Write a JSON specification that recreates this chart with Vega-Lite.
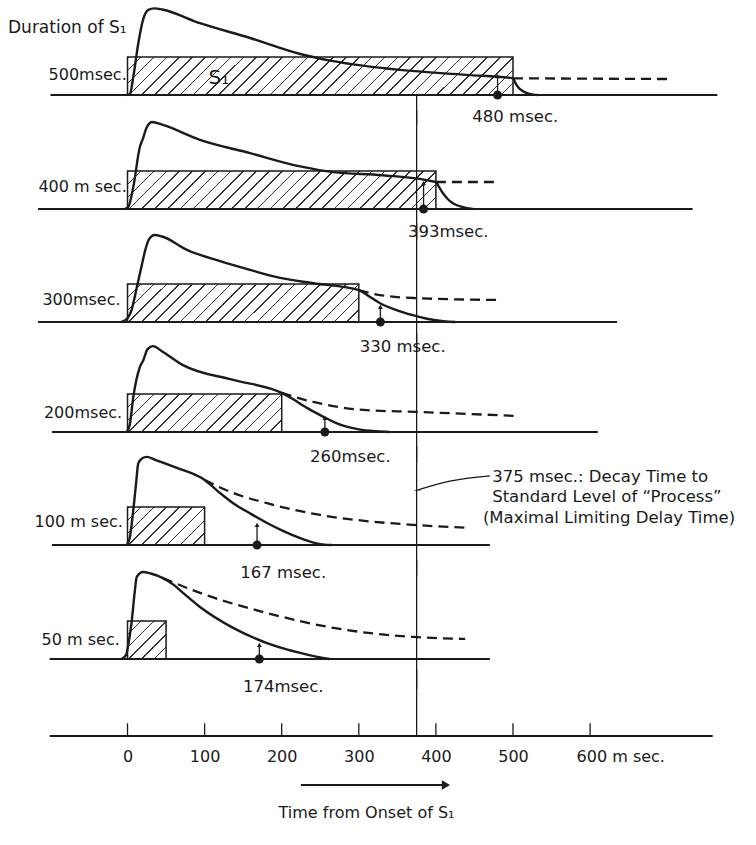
{
"$schema": "https://vega.github.io/schema/vega-lite/v6.json",
"background": "white",
"padding": 0,
"spacing": 0,
"bounds": "flush",
"config": {"view": {"stroke": null}, "font": "DejaVu Sans"},
"resolve": {"scale": {"y": "independent"}},
"datasets": {
"curves": [
{"p":500,"s":"solid","t":0,"v":0},{"p":500,"s":"solid","t":3,"v":0.02},{"p":500,"s":"solid","t":7.5,"v":0.48},{"p":500,"s":"solid","t":14,"v":1.36},{"p":500,"s":"solid","t":20,"v":1.97},{"p":500,"s":"solid","t":27,"v":2.24},{"p":500,"s":"solid","t":35,"v":2.28},{"p":500,"s":"solid","t":45,"v":2.25},{"p":500,"s":"solid","t":94,"v":1.89},{"p":500,"s":"solid","t":159,"v":1.5},{"p":500,"s":"solid","t":224,"v":1.08},{"p":500,"s":"solid","t":267,"v":0.89},{"p":500,"s":"solid","t":353,"v":0.66},{"p":500,"s":"solid","t":440,"v":0.53},{"p":500,"s":"solid","t":500,"v":0.44},{"p":500,"s":"solid","t":503,"v":0.32},{"p":500,"s":"solid","t":507,"v":0.2},{"p":500,"s":"solid","t":512,"v":0.11},{"p":500,"s":"solid","t":518,"v":0.05},{"p":500,"s":"solid","t":526,"v":0.01},{"p":500,"s":"solid","t":532,"v":0},
{"p":500,"s":"dashed","t":500,"v":0.44},{"p":500,"s":"dashed","t":600,"v":0.43},{"p":500,"s":"dashed","t":706,"v":0.42},
{"p":400,"s":"solid","t":-3,"v":0},{"p":400,"s":"solid","t":1,"v":0.05},{"p":400,"s":"solid","t":7.5,"v":0.58},{"p":400,"s":"solid","t":16,"v":1.63},{"p":400,"s":"solid","t":20,"v":1.85},{"p":400,"s":"solid","t":25,"v":2.15},{"p":400,"s":"solid","t":32,"v":2.29},{"p":400,"s":"solid","t":45,"v":2.22},{"p":400,"s":"solid","t":94,"v":1.82},{"p":400,"s":"solid","t":159,"v":1.47},{"p":400,"s":"solid","t":224,"v":1.12},{"p":400,"s":"solid","t":267,"v":0.97},{"p":400,"s":"solid","t":331,"v":0.89},{"p":400,"s":"solid","t":400,"v":0.71},{"p":400,"s":"solid","t":404,"v":0.58},{"p":400,"s":"solid","t":409,"v":0.42},{"p":400,"s":"solid","t":415,"v":0.27},{"p":400,"s":"solid","t":422,"v":0.15},{"p":400,"s":"solid","t":435,"v":0.05},{"p":400,"s":"solid","t":448,"v":0},
{"p":400,"s":"dashed","t":400,"v":0.71},{"p":400,"s":"dashed","t":483,"v":0.71},
{"p":300,"s":"solid","t":-8,"v":0},{"p":300,"s":"solid","t":0,"v":0.1},{"p":300,"s":"solid","t":5,"v":0.3},{"p":300,"s":"solid","t":7.5,"v":0.49},{"p":300,"s":"solid","t":13,"v":1.0},{"p":300,"s":"solid","t":18,"v":1.45},{"p":300,"s":"solid","t":23,"v":1.89},{"p":300,"s":"solid","t":28,"v":2.18},{"p":300,"s":"solid","t":35,"v":2.29},{"p":300,"s":"solid","t":45,"v":2.25},{"p":300,"s":"solid","t":77,"v":1.9},{"p":300,"s":"solid","t":120,"v":1.6},{"p":300,"s":"solid","t":159,"v":1.37},{"p":300,"s":"solid","t":198,"v":1.16},{"p":300,"s":"solid","t":241,"v":1.02},{"p":300,"s":"solid","t":300,"v":0.84},{"p":300,"s":"solid","t":313,"v":0.68},{"p":300,"s":"solid","t":327,"v":0.5},{"p":300,"s":"solid","t":348,"v":0.32},{"p":300,"s":"solid","t":370,"v":0.18},{"p":300,"s":"solid","t":390,"v":0.08},{"p":300,"s":"solid","t":410,"v":0.02},{"p":300,"s":"solid","t":425,"v":0},
{"p":300,"s":"dashed","t":300,"v":0.84},{"p":300,"s":"dashed","t":327,"v":0.71},{"p":300,"s":"dashed","t":373,"v":0.63},{"p":300,"s":"dashed","t":479,"v":0.58},
{"p":200,"s":"solid","t":-1,"v":0},{"p":200,"s":"solid","t":3,"v":0.2},{"p":200,"s":"solid","t":7.5,"v":0.92},{"p":200,"s":"solid","t":16,"v":1.71},{"p":200,"s":"solid","t":20.5,"v":1.89},{"p":200,"s":"solid","t":26,"v":2.18},{"p":200,"s":"solid","t":33,"v":2.26},{"p":200,"s":"solid","t":45,"v":2.12},{"p":200,"s":"solid","t":72,"v":1.76},{"p":200,"s":"solid","t":137,"v":1.37},{"p":200,"s":"solid","t":200,"v":1.03},{"p":200,"s":"solid","t":215,"v":0.86},{"p":200,"s":"solid","t":228,"v":0.69},{"p":200,"s":"solid","t":242,"v":0.53},{"p":200,"s":"solid","t":256,"v":0.38},{"p":200,"s":"solid","t":270,"v":0.24},{"p":200,"s":"solid","t":284,"v":0.14},{"p":200,"s":"solid","t":300,"v":0.07},{"p":200,"s":"solid","t":323,"v":0.02},{"p":200,"s":"solid","t":340,"v":0},
{"p":200,"s":"dashed","t":200,"v":1.03},{"p":200,"s":"dashed","t":241,"v":0.79},{"p":200,"s":"dashed","t":306,"v":0.58},{"p":200,"s":"dashed","t":373,"v":0.53},{"p":200,"s":"dashed","t":507,"v":0.42},
{"p":100,"s":"solid","t":-1,"v":0},{"p":100,"s":"solid","t":3,"v":0.2},{"p":100,"s":"solid","t":7.5,"v":0.92},{"p":100,"s":"solid","t":11,"v":1.6},{"p":100,"s":"solid","t":14,"v":2.15},{"p":100,"s":"solid","t":19,"v":2.28},{"p":100,"s":"solid","t":25,"v":2.32},{"p":100,"s":"solid","t":35,"v":2.25},{"p":100,"s":"solid","t":64,"v":2.03},{"p":100,"s":"solid","t":100,"v":1.71},{"p":100,"s":"solid","t":118,"v":1.4},{"p":100,"s":"solid","t":137,"v":1.1},{"p":100,"s":"solid","t":160,"v":0.82},{"p":100,"s":"solid","t":181,"v":0.58},{"p":100,"s":"solid","t":203,"v":0.36},{"p":100,"s":"solid","t":224,"v":0.18},{"p":100,"s":"solid","t":240,"v":0.07},{"p":100,"s":"solid","t":255,"v":0.01},{"p":100,"s":"solid","t":265,"v":0},
{"p":100,"s":"dashed","t":100,"v":1.71},{"p":100,"s":"dashed","t":137,"v":1.37},{"p":100,"s":"dashed","t":181,"v":1.1},{"p":100,"s":"dashed","t":250,"v":0.79},{"p":100,"s":"dashed","t":310,"v":0.63},{"p":100,"s":"dashed","t":371,"v":0.53},{"p":100,"s":"dashed","t":444,"v":0.45},
{"p":50,"s":"solid","t":-8,"v":0},{"p":50,"s":"solid","t":-2,"v":0.1},{"p":50,"s":"solid","t":2,"v":0.5},{"p":50,"s":"solid","t":5.4,"v":0.98},{"p":50,"s":"solid","t":9,"v":1.7},{"p":50,"s":"solid","t":12,"v":2.16},{"p":50,"s":"solid","t":20,"v":2.29},{"p":50,"s":"solid","t":30,"v":2.25},{"p":50,"s":"solid","t":46,"v":2.13},{"p":50,"s":"solid","t":60,"v":1.95},{"p":50,"s":"solid","t":72,"v":1.74},{"p":50,"s":"solid","t":94,"v":1.37},{"p":50,"s":"solid","t":137,"v":0.82},{"p":50,"s":"solid","t":181,"v":0.42},{"p":50,"s":"solid","t":224,"v":0.16},{"p":50,"s":"solid","t":250,"v":0.04},{"p":50,"s":"solid","t":262,"v":0},
{"p":50,"s":"dashed","t":46,"v":2.13},{"p":50,"s":"dashed","t":94,"v":1.74},{"p":50,"s":"dashed","t":181,"v":1.21},{"p":50,"s":"dashed","t":267,"v":0.82},{"p":50,"s":"dashed","t":371,"v":0.58},{"p":50,"s":"dashed","t":438,"v":0.53}
],
"boxes": [
{"p":500,"t":0,"t2":500,"v":0,"v2":1},{"p":400,"t":0,"t2":400,"v":0,"v2":1},{"p":300,"t":0,"t2":300,"v":0,"v2":1},{"p":200,"t":0,"t2":200,"v":0,"v2":1},{"p":100,"t":0,"t2":100,"v":0,"v2":1},{"p":50,"t":0,"t2":50,"v":0,"v2":1}
],
"bases": [
{"p":500,"t":-100,"t2":765,"v":0},{"p":400,"t":-116,"t2":733,"v":0},{"p":300,"t":-116,"t2":635,"v":0},{"p":200,"t":-98,"t2":610,"v":0},{"p":100,"t":-98,"t2":470,"v":0},{"p":50,"t":-101,"t2":470,"v":0},{"p":0,"t":-101,"t2":759,"v":0}
],
"vlines": [
{"p":500,"t":375,"v":0,"v2":-0.8},{"p":400,"t":375,"v":2.6,"v2":-0.8},{"p":300,"t":375,"v":2.6,"v2":-0.8},{"p":200,"t":375,"v":2.6,"v2":-0.8},{"p":100,"t":375,"v":2.6,"v2":-0.8},{"p":50,"t":375,"v":2.6,"v2":-0.8},{"p":0,"t":375,"v":1.3,"v2":0}
],
"dots": [
{"p":500,"t":480,"v":0,"v2":0.5},{"p":400,"t":384,"v":0,"v2":0.68},{"p":300,"t":328,"v":0,"v2":0.4},{"p":200,"t":256,"v":0,"v2":0.37},{"p":100,"t":168,"v":0,"v2":0.53},{"p":50,"t":171,"v":0,"v2":0.37}
],
"plabels": [
{"p":500,"t":-1,"v":0.53,"text":"500msec."},{"p":400,"t":-1,"v":0.58,"text":"400 m sec."},{"p":300,"t":-9,"v":0.58,"text":"300msec."},{"p":200,"t":-7,"v":0.5,"text":"200msec."},{"p":100,"t":-6,"v":0.6,"text":"100 m sec."},{"p":50,"t":-10,"v":0.5,"text":"50 m sec."}
],
"dlabels": [
{"p":500,"t":503,"v":-0.58,"text":"480 msec."},{"p":400,"t":416,"v":-0.6,"text":"393msec."},{"p":300,"t":357,"v":-0.66,"text":"330 msec."},{"p":200,"t":289,"v":-0.66,"text":"260msec."},{"p":100,"t":202,"v":-0.74,"text":"167 msec."},{"p":50,"t":202,"v":-0.74,"text":"174msec."}
],
"notes": [
{"p":500,"t":-155,"v":1.76,"text":"Duration of S\u2081"},
{"p":100,"t":473,"v":1.79,"text":"375 msec.: Decay Time to"},{"p":100,"t":473,"v":1.26,"text":"Standard Level of \u201cProcess\u201d"},{"p":100,"t":461,"v":0.71,"text":"(Maximal Limiting Delay Time)"}
],
"boxnote": [{"p":500,"t":105,"v":0.45,"text":"S\u2081"}],
"leader": [
{"p":100,"t":470,"v":1.82},{"p":100,"t":418,"v":1.68},{"p":100,"t":380,"v":1.47}
],
"leadhead": [{"p":100,"t":377,"v":1.45}],
"ticks": [
{"t":0,"v":0,"v2":0.25},{"t":100,"v":0,"v2":0.25},{"t":200,"v":0,"v2":0.25},{"t":300,"v":0,"v2":0.25},{"t":400,"v":0,"v2":0.25},{"t":500,"v":0,"v2":0.25},{"t":600,"v":0,"v2":0.25}
],
"arrow": [{"t":225,"t2":410,"v":-0.96}],
"arrowhead": [{"t":413,"v":-0.96}]
},
"vconcat": [
{
"height": 121, "width": 756,
"encoding": {"x": {"field":"t","type":"quantitative","scale":{"domain":[-165.4,815.2],"nice":false,"zero":false},"axis":null},
"y": {"field":"v","type":"quantitative","scale":{"domain":[-0.684,2.5],"nice":false,"zero":false},"axis":null}},
"layer": [
{"data":{"name":"boxes"},"transform":[{"filter":"datum.p==500"}],"mark":{"type":"rect","stroke":"#1a1a1a","strokeWidth":1.5,"fill":{"gradient":"linear","x1":0,"y1":0,"x2":1.088,"y2":0.1073,"stops":[
{"offset":0,"color":"#333"},{"offset":0.0038,"color":"#333"},{"offset":0.0038,"color":"#fff"},{"offset":0.0303,"color":"#fff"},
{"offset":0.0303,"color":"#333"},{"offset":0.0341,"color":"#333"},{"offset":0.0341,"color":"#fff"},{"offset":0.0606,"color":"#fff"},
{"offset":0.0606,"color":"#333"},{"offset":0.0644,"color":"#333"},{"offset":0.0644,"color":"#fff"},{"offset":0.0909,"color":"#fff"},
{"offset":0.0909,"color":"#333"},{"offset":0.0947,"color":"#333"},{"offset":0.0947,"color":"#fff"},{"offset":0.1212,"color":"#fff"},
{"offset":0.1212,"color":"#333"},{"offset":0.125,"color":"#333"},{"offset":0.125,"color":"#fff"},{"offset":0.1515,"color":"#fff"},
{"offset":0.1515,"color":"#333"},{"offset":0.1553,"color":"#333"},{"offset":0.1553,"color":"#fff"},{"offset":0.1818,"color":"#fff"},
{"offset":0.1818,"color":"#333"},{"offset":0.1856,"color":"#333"},{"offset":0.1856,"color":"#fff"},{"offset":0.2121,"color":"#fff"},
{"offset":0.2121,"color":"#333"},{"offset":0.2159,"color":"#333"},{"offset":0.2159,"color":"#fff"},{"offset":0.2424,"color":"#fff"},
{"offset":0.2424,"color":"#333"},{"offset":0.2462,"color":"#333"},{"offset":0.2462,"color":"#fff"},{"offset":0.2727,"color":"#fff"},
{"offset":0.2727,"color":"#333"},{"offset":0.2765,"color":"#333"},{"offset":0.2765,"color":"#fff"},{"offset":0.303,"color":"#fff"},
{"offset":0.303,"color":"#333"},{"offset":0.3068,"color":"#333"},{"offset":0.3068,"color":"#fff"},{"offset":0.3333,"color":"#fff"},
{"offset":0.3333,"color":"#333"},{"offset":0.3371,"color":"#333"},{"offset":0.3371,"color":"#fff"},{"offset":0.3636,"color":"#fff"},
{"offset":0.3636,"color":"#333"},{"offset":0.3674,"color":"#333"},{"offset":0.3674,"color":"#fff"},{"offset":0.3939,"color":"#fff"},
{"offset":0.3939,"color":"#333"},{"offset":0.3977,"color":"#333"},{"offset":0.3977,"color":"#fff"},{"offset":0.4242,"color":"#fff"},
{"offset":0.4242,"color":"#333"},{"offset":0.428,"color":"#333"},{"offset":0.428,"color":"#fff"},{"offset":0.4545,"color":"#fff"},
{"offset":0.4545,"color":"#333"},{"offset":0.4583,"color":"#333"},{"offset":0.4583,"color":"#fff"},{"offset":0.4848,"color":"#fff"},
{"offset":0.4848,"color":"#333"},{"offset":0.4886,"color":"#333"},{"offset":0.4886,"color":"#fff"},{"offset":0.5152,"color":"#fff"},
{"offset":0.5152,"color":"#333"},{"offset":0.519,"color":"#333"},{"offset":0.519,"color":"#fff"},{"offset":0.5455,"color":"#fff"},
{"offset":0.5455,"color":"#333"},{"offset":0.5493,"color":"#333"},{"offset":0.5493,"color":"#fff"},{"offset":0.5758,"color":"#fff"},
{"offset":0.5758,"color":"#333"},{"offset":0.5796,"color":"#333"},{"offset":0.5796,"color":"#fff"},{"offset":0.6061,"color":"#fff"},
{"offset":0.6061,"color":"#333"},{"offset":0.6099,"color":"#333"},{"offset":0.6099,"color":"#fff"},{"offset":0.6364,"color":"#fff"},
{"offset":0.6364,"color":"#333"},{"offset":0.6402,"color":"#333"},{"offset":0.6402,"color":"#fff"},{"offset":0.6667,"color":"#fff"},
{"offset":0.6667,"color":"#333"},{"offset":0.6705,"color":"#333"},{"offset":0.6705,"color":"#fff"},{"offset":0.697,"color":"#fff"},
{"offset":0.697,"color":"#333"},{"offset":0.7008,"color":"#333"},{"offset":0.7008,"color":"#fff"},{"offset":0.7273,"color":"#fff"},
{"offset":0.7273,"color":"#333"},{"offset":0.7311,"color":"#333"},{"offset":0.7311,"color":"#fff"},{"offset":0.7576,"color":"#fff"},
{"offset":0.7576,"color":"#333"},{"offset":0.7614,"color":"#333"},{"offset":0.7614,"color":"#fff"},{"offset":0.7879,"color":"#fff"},
{"offset":0.7879,"color":"#333"},{"offset":0.7917,"color":"#333"},{"offset":0.7917,"color":"#fff"},{"offset":0.8182,"color":"#fff"},
{"offset":0.8182,"color":"#333"},{"offset":0.822,"color":"#333"},{"offset":0.822,"color":"#fff"},{"offset":0.8485,"color":"#fff"},
{"offset":0.8485,"color":"#333"},{"offset":0.8523,"color":"#333"},{"offset":0.8523,"color":"#fff"},{"offset":0.8788,"color":"#fff"},
{"offset":0.8788,"color":"#333"},{"offset":0.8826,"color":"#333"},{"offset":0.8826,"color":"#fff"},{"offset":0.9091,"color":"#fff"},
{"offset":0.9091,"color":"#333"},{"offset":0.9129,"color":"#333"},{"offset":0.9129,"color":"#fff"},{"offset":0.9394,"color":"#fff"},
{"offset":0.9394,"color":"#333"},{"offset":0.9432,"color":"#333"},{"offset":0.9432,"color":"#fff"},{"offset":0.9697,"color":"#fff"},
{"offset":0.9697,"color":"#333"},{"offset":0.9735,"color":"#333"},{"offset":0.9735,"color":"#fff"},{"offset":1,"color":"#fff"}
]}},"encoding":{"x2":{"field":"t2"},"y2":{"field":"v2"}}},
{"data":{"name":"bases"},"transform":[{"filter":"datum.p==500"}],"mark":{"type":"rule","color":"#1a1a1a","strokeWidth":1.8},"encoding":{"x2":{"field":"t2"}}},
{"data":{"name":"vlines"},"transform":[{"filter":"datum.p==500"}],"mark":{"type":"rule","color":"#1a1a1a","strokeWidth":1.3},"encoding":{"y2":{"field":"v2"}}},
{"data":{"name":"curves"},"transform":[{"filter":"datum.p==500 && datum.s=='dashed'"}],"mark":{"type":"line","color":"#1a1a1a","strokeWidth":2.3,"strokeDash":[10,6],"interpolate":"monotone"}},
{"data":{"name":"curves"},"transform":[{"filter":"datum.p==500 && datum.s=='solid'"}],"mark":{"type":"line","color":"#1a1a1a","strokeWidth":2.4,"interpolate":"monotone"}},
{"data":{"name":"dots"},"transform":[{"filter":"datum.p==500"}],"mark":{"type":"rule","color":"#1a1a1a","strokeWidth":1.3},"encoding":{"y2":{"field":"v2"}}},
{"data":{"name":"dots"},"transform":[{"filter":"datum.p==500"}],"mark":{"type":"point","shape":"triangle-up","filled":true,"color":"#1a1a1a","opacity":1,"size":24},"encoding":{"y":{"field":"v2","type":"quantitative"}}},
{"data":{"name":"dots"},"transform":[{"filter":"datum.p==500"}],"mark":{"type":"circle","color":"#1a1a1a","opacity":1,"size":80}},
{"data":{"name":"plabels"},"transform":[{"filter":"datum.p==500"}],"mark":{"type":"text","align":"right","baseline":"middle","font":"DejaVu Sans","fontSize":16,"color":"#1a1a1a"},"encoding":{"text":{"field":"text"}}},
{"data":{"name":"dlabels"},"transform":[{"filter":"datum.p==500"}],"mark":{"type":"text","align":"center","baseline":"middle","font":"DejaVu Sans","fontSize":16.5,"color":"#1a1a1a"},"encoding":{"text":{"field":"text"}}},
{"data":{"name":"notes"},"transform":[{"filter":"datum.p==500"}],"mark":{"type":"text","align":"left","baseline":"middle","font":"DejaVu Sans","fontSize":17,"color":"#1a1a1a"},"encoding":{"text":{"field":"text"}}},
{"data":{"name":"boxnote"},"mark":{"type":"text","align":"left","baseline":"middle","font":"DejaVu Sans","fontSize":20,"color":"#1a1a1a"},"encoding":{"text":{"field":"text"}}}
]
},
{
"height": 113, "width": 756,
"encoding": {"x": {"field":"t","type":"quantitative","scale":{"domain":[-165.4,815.2],"nice":false,"zero":false},"axis":null},
"y": {"field":"v","type":"quantitative","scale":{"domain":[-0.658,2.316],"nice":false,"zero":false},"axis":null}},
"layer": [
{"data":{"name":"boxes"},"transform":[{"filter":"datum.p==400"}],"mark":{"type":"rect","stroke":"#1a1a1a","strokeWidth":1.5,"fill":{"gradient":"linear","x1":0,"y1":0,"x2":1.1064,"y2":0.1363,"stops":[
{"offset":0,"color":"#333"},{"offset":0.0046,"color":"#333"},{"offset":0.0046,"color":"#fff"},{"offset":0.037,"color":"#fff"},
{"offset":0.037,"color":"#333"},{"offset":0.0416,"color":"#333"},{"offset":0.0416,"color":"#fff"},{"offset":0.0741,"color":"#fff"},
{"offset":0.0741,"color":"#333"},{"offset":0.0787,"color":"#333"},{"offset":0.0787,"color":"#fff"},{"offset":0.1111,"color":"#fff"},
{"offset":0.1111,"color":"#333"},{"offset":0.1157,"color":"#333"},{"offset":0.1157,"color":"#fff"},{"offset":0.1481,"color":"#fff"},
{"offset":0.1481,"color":"#333"},{"offset":0.1527,"color":"#333"},{"offset":0.1527,"color":"#fff"},{"offset":0.1852,"color":"#fff"},
{"offset":0.1852,"color":"#333"},{"offset":0.1898,"color":"#333"},{"offset":0.1898,"color":"#fff"},{"offset":0.2222,"color":"#fff"},
{"offset":0.2222,"color":"#333"},{"offset":0.2268,"color":"#333"},{"offset":0.2268,"color":"#fff"},{"offset":0.2593,"color":"#fff"},
{"offset":0.2593,"color":"#333"},{"offset":0.2639,"color":"#333"},{"offset":0.2639,"color":"#fff"},{"offset":0.2963,"color":"#fff"},
{"offset":0.2963,"color":"#333"},{"offset":0.3009,"color":"#333"},{"offset":0.3009,"color":"#fff"},{"offset":0.3333,"color":"#fff"},
{"offset":0.3333,"color":"#333"},{"offset":0.3379,"color":"#333"},{"offset":0.3379,"color":"#fff"},{"offset":0.3704,"color":"#fff"},
{"offset":0.3704,"color":"#333"},{"offset":0.375,"color":"#333"},{"offset":0.375,"color":"#fff"},{"offset":0.4074,"color":"#fff"},
{"offset":0.4074,"color":"#333"},{"offset":0.412,"color":"#333"},{"offset":0.412,"color":"#fff"},{"offset":0.4444,"color":"#fff"},
{"offset":0.4444,"color":"#333"},{"offset":0.449,"color":"#333"},{"offset":0.449,"color":"#fff"},{"offset":0.4815,"color":"#fff"},
{"offset":0.4815,"color":"#333"},{"offset":0.4861,"color":"#333"},{"offset":0.4861,"color":"#fff"},{"offset":0.5185,"color":"#fff"},
{"offset":0.5185,"color":"#333"},{"offset":0.5231,"color":"#333"},{"offset":0.5231,"color":"#fff"},{"offset":0.5556,"color":"#fff"},
{"offset":0.5556,"color":"#333"},{"offset":0.5602,"color":"#333"},{"offset":0.5602,"color":"#fff"},{"offset":0.5926,"color":"#fff"},
{"offset":0.5926,"color":"#333"},{"offset":0.5972,"color":"#333"},{"offset":0.5972,"color":"#fff"},{"offset":0.6296,"color":"#fff"},
{"offset":0.6296,"color":"#333"},{"offset":0.6342,"color":"#333"},{"offset":0.6342,"color":"#fff"},{"offset":0.6667,"color":"#fff"},
{"offset":0.6667,"color":"#333"},{"offset":0.6713,"color":"#333"},{"offset":0.6713,"color":"#fff"},{"offset":0.7037,"color":"#fff"},
{"offset":0.7037,"color":"#333"},{"offset":0.7083,"color":"#333"},{"offset":0.7083,"color":"#fff"},{"offset":0.7407,"color":"#fff"},
{"offset":0.7407,"color":"#333"},{"offset":0.7453,"color":"#333"},{"offset":0.7453,"color":"#fff"},{"offset":0.7778,"color":"#fff"},
{"offset":0.7778,"color":"#333"},{"offset":0.7824,"color":"#333"},{"offset":0.7824,"color":"#fff"},{"offset":0.8148,"color":"#fff"},
{"offset":0.8148,"color":"#333"},{"offset":0.8194,"color":"#333"},{"offset":0.8194,"color":"#fff"},{"offset":0.8519,"color":"#fff"},
{"offset":0.8519,"color":"#333"},{"offset":0.8565,"color":"#333"},{"offset":0.8565,"color":"#fff"},{"offset":0.8889,"color":"#fff"},
{"offset":0.8889,"color":"#333"},{"offset":0.8935,"color":"#333"},{"offset":0.8935,"color":"#fff"},{"offset":0.9259,"color":"#fff"},
{"offset":0.9259,"color":"#333"},{"offset":0.9305,"color":"#333"},{"offset":0.9305,"color":"#fff"},{"offset":0.963,"color":"#fff"},
{"offset":0.963,"color":"#333"},{"offset":0.9676,"color":"#333"},{"offset":0.9676,"color":"#fff"},{"offset":1,"color":"#fff"}
]}},"encoding":{"x2":{"field":"t2"},"y2":{"field":"v2"}}},
{"data":{"name":"bases"},"transform":[{"filter":"datum.p==400"}],"mark":{"type":"rule","color":"#1a1a1a","strokeWidth":1.8},"encoding":{"x2":{"field":"t2"}}},
{"data":{"name":"vlines"},"transform":[{"filter":"datum.p==400"}],"mark":{"type":"rule","color":"#1a1a1a","strokeWidth":1.3},"encoding":{"y2":{"field":"v2"}}},
{"data":{"name":"curves"},"transform":[{"filter":"datum.p==400 && datum.s=='dashed'"}],"mark":{"type":"line","color":"#1a1a1a","strokeWidth":2.3,"strokeDash":[10,6],"interpolate":"monotone"}},
{"data":{"name":"curves"},"transform":[{"filter":"datum.p==400 && datum.s=='solid'"}],"mark":{"type":"line","color":"#1a1a1a","strokeWidth":2.4,"interpolate":"monotone"}},
{"data":{"name":"dots"},"transform":[{"filter":"datum.p==400"}],"mark":{"type":"rule","color":"#1a1a1a","strokeWidth":1.3},"encoding":{"y2":{"field":"v2"}}},
{"data":{"name":"dots"},"transform":[{"filter":"datum.p==400"}],"mark":{"type":"point","shape":"triangle-up","filled":true,"color":"#1a1a1a","opacity":1,"size":24},"encoding":{"y":{"field":"v2","type":"quantitative"}}},
{"data":{"name":"dots"},"transform":[{"filter":"datum.p==400"}],"mark":{"type":"circle","color":"#1a1a1a","opacity":1,"size":80}},
{"data":{"name":"plabels"},"transform":[{"filter":"datum.p==400"}],"mark":{"type":"text","align":"right","baseline":"middle","font":"DejaVu Sans","fontSize":16,"color":"#1a1a1a"},"encoding":{"text":{"field":"text"}}},
{"data":{"name":"dlabels"},"transform":[{"filter":"datum.p==400"}],"mark":{"type":"text","align":"center","baseline":"middle","font":"DejaVu Sans","fontSize":16.5,"color":"#1a1a1a"},"encoding":{"text":{"field":"text"}}}
]
},
{
"height": 110, "width": 756,
"encoding": {"x": {"field":"t","type":"quantitative","scale":{"domain":[-165.4,815.2],"nice":false,"zero":false},"axis":null},
"y": {"field":"v","type":"quantitative","scale":{"domain":[-0.579,2.316],"nice":false,"zero":false},"axis":null}},
"layer": [
{"data":{"name":"boxes"},"transform":[{"filter":"datum.p==300"}],"mark":{"type":"rect","stroke":"#1a1a1a","strokeWidth":1.5,"fill":{"gradient":"linear","x1":0,"y1":0,"x2":1.1337,"y2":0.1863,"stops":[
{"offset":0,"color":"#333"},{"offset":0.006,"color":"#333"},{"offset":0.006,"color":"#fff"},{"offset":0.0476,"color":"#fff"},
{"offset":0.0476,"color":"#333"},{"offset":0.0536,"color":"#333"},{"offset":0.0536,"color":"#fff"},{"offset":0.0952,"color":"#fff"},
{"offset":0.0952,"color":"#333"},{"offset":0.1012,"color":"#333"},{"offset":0.1012,"color":"#fff"},{"offset":0.1429,"color":"#fff"},
{"offset":0.1429,"color":"#333"},{"offset":0.1489,"color":"#333"},{"offset":0.1489,"color":"#fff"},{"offset":0.1905,"color":"#fff"},
{"offset":0.1905,"color":"#333"},{"offset":0.1965,"color":"#333"},{"offset":0.1965,"color":"#fff"},{"offset":0.2381,"color":"#fff"},
{"offset":0.2381,"color":"#333"},{"offset":0.2441,"color":"#333"},{"offset":0.2441,"color":"#fff"},{"offset":0.2857,"color":"#fff"},
{"offset":0.2857,"color":"#333"},{"offset":0.2917,"color":"#333"},{"offset":0.2917,"color":"#fff"},{"offset":0.3333,"color":"#fff"},
{"offset":0.3333,"color":"#333"},{"offset":0.3393,"color":"#333"},{"offset":0.3393,"color":"#fff"},{"offset":0.381,"color":"#fff"},
{"offset":0.381,"color":"#333"},{"offset":0.387,"color":"#333"},{"offset":0.387,"color":"#fff"},{"offset":0.4286,"color":"#fff"},
{"offset":0.4286,"color":"#333"},{"offset":0.4346,"color":"#333"},{"offset":0.4346,"color":"#fff"},{"offset":0.4762,"color":"#fff"},
{"offset":0.4762,"color":"#333"},{"offset":0.4822,"color":"#333"},{"offset":0.4822,"color":"#fff"},{"offset":0.5238,"color":"#fff"},
{"offset":0.5238,"color":"#333"},{"offset":0.5298,"color":"#333"},{"offset":0.5298,"color":"#fff"},{"offset":0.5714,"color":"#fff"},
{"offset":0.5714,"color":"#333"},{"offset":0.5774,"color":"#333"},{"offset":0.5774,"color":"#fff"},{"offset":0.619,"color":"#fff"},
{"offset":0.619,"color":"#333"},{"offset":0.625,"color":"#333"},{"offset":0.625,"color":"#fff"},{"offset":0.6667,"color":"#fff"},
{"offset":0.6667,"color":"#333"},{"offset":0.6727,"color":"#333"},{"offset":0.6727,"color":"#fff"},{"offset":0.7143,"color":"#fff"},
{"offset":0.7143,"color":"#333"},{"offset":0.7203,"color":"#333"},{"offset":0.7203,"color":"#fff"},{"offset":0.7619,"color":"#fff"},
{"offset":0.7619,"color":"#333"},{"offset":0.7679,"color":"#333"},{"offset":0.7679,"color":"#fff"},{"offset":0.8095,"color":"#fff"},
{"offset":0.8095,"color":"#333"},{"offset":0.8155,"color":"#333"},{"offset":0.8155,"color":"#fff"},{"offset":0.8571,"color":"#fff"},
{"offset":0.8571,"color":"#333"},{"offset":0.8631,"color":"#333"},{"offset":0.8631,"color":"#fff"},{"offset":0.9048,"color":"#fff"},
{"offset":0.9048,"color":"#333"},{"offset":0.9108,"color":"#333"},{"offset":0.9108,"color":"#fff"},{"offset":0.9524,"color":"#fff"},
{"offset":0.9524,"color":"#333"},{"offset":0.9584,"color":"#333"},{"offset":0.9584,"color":"#fff"},{"offset":1,"color":"#fff"}
]}},"encoding":{"x2":{"field":"t2"},"y2":{"field":"v2"}}},
{"data":{"name":"bases"},"transform":[{"filter":"datum.p==300"}],"mark":{"type":"rule","color":"#1a1a1a","strokeWidth":1.8},"encoding":{"x2":{"field":"t2"}}},
{"data":{"name":"vlines"},"transform":[{"filter":"datum.p==300"}],"mark":{"type":"rule","color":"#1a1a1a","strokeWidth":1.3},"encoding":{"y2":{"field":"v2"}}},
{"data":{"name":"curves"},"transform":[{"filter":"datum.p==300 && datum.s=='dashed'"}],"mark":{"type":"line","color":"#1a1a1a","strokeWidth":2.3,"strokeDash":[10,6],"interpolate":"monotone"}},
{"data":{"name":"curves"},"transform":[{"filter":"datum.p==300 && datum.s=='solid'"}],"mark":{"type":"line","color":"#1a1a1a","strokeWidth":2.4,"interpolate":"monotone"}},
{"data":{"name":"dots"},"transform":[{"filter":"datum.p==300"}],"mark":{"type":"rule","color":"#1a1a1a","strokeWidth":1.3},"encoding":{"y2":{"field":"v2"}}},
{"data":{"name":"dots"},"transform":[{"filter":"datum.p==300"}],"mark":{"type":"point","shape":"triangle-up","filled":true,"color":"#1a1a1a","opacity":1,"size":24},"encoding":{"y":{"field":"v2","type":"quantitative"}}},
{"data":{"name":"dots"},"transform":[{"filter":"datum.p==300"}],"mark":{"type":"circle","color":"#1a1a1a","opacity":1,"size":80}},
{"data":{"name":"plabels"},"transform":[{"filter":"datum.p==300"}],"mark":{"type":"text","align":"right","baseline":"middle","font":"DejaVu Sans","fontSize":16,"color":"#1a1a1a"},"encoding":{"text":{"field":"text"}}},
{"data":{"name":"dlabels"},"transform":[{"filter":"datum.p==300"}],"mark":{"type":"text","align":"center","baseline":"middle","font":"DejaVu Sans","fontSize":16.5,"color":"#1a1a1a"},"encoding":{"text":{"field":"text"}}}
]
},
{
"height": 113, "width": 756,
"encoding": {"x": {"field":"t","type":"quantitative","scale":{"domain":[-165.4,815.2],"nice":false,"zero":false},"axis":null},
"y": {"field":"v","type":"quantitative","scale":{"domain":[-0.658,2.316],"nice":false,"zero":false},"axis":null}},
"layer": [
{"data":{"name":"boxes"},"transform":[{"filter":"datum.p==200"}],"mark":{"type":"rect","stroke":"#1a1a1a","strokeWidth":1.5,"fill":{"gradient":"linear","x1":0,"y1":0,"x2":1.175,"y2":0.2896,"stops":[
{"offset":0,"color":"#333"},{"offset":0.0083,"color":"#333"},{"offset":0.0083,"color":"#fff"},{"offset":0.0667,"color":"#fff"},
{"offset":0.0667,"color":"#333"},{"offset":0.075,"color":"#333"},{"offset":0.075,"color":"#fff"},{"offset":0.1333,"color":"#fff"},
{"offset":0.1333,"color":"#333"},{"offset":0.1416,"color":"#333"},{"offset":0.1416,"color":"#fff"},{"offset":0.2,"color":"#fff"},
{"offset":0.2,"color":"#333"},{"offset":0.2083,"color":"#333"},{"offset":0.2083,"color":"#fff"},{"offset":0.2667,"color":"#fff"},
{"offset":0.2667,"color":"#333"},{"offset":0.275,"color":"#333"},{"offset":0.275,"color":"#fff"},{"offset":0.3333,"color":"#fff"},
{"offset":0.3333,"color":"#333"},{"offset":0.3416,"color":"#333"},{"offset":0.3416,"color":"#fff"},{"offset":0.4,"color":"#fff"},
{"offset":0.4,"color":"#333"},{"offset":0.4083,"color":"#333"},{"offset":0.4083,"color":"#fff"},{"offset":0.4667,"color":"#fff"},
{"offset":0.4667,"color":"#333"},{"offset":0.475,"color":"#333"},{"offset":0.475,"color":"#fff"},{"offset":0.5333,"color":"#fff"},
{"offset":0.5333,"color":"#333"},{"offset":0.5416,"color":"#333"},{"offset":0.5416,"color":"#fff"},{"offset":0.6,"color":"#fff"},
{"offset":0.6,"color":"#333"},{"offset":0.6083,"color":"#333"},{"offset":0.6083,"color":"#fff"},{"offset":0.6667,"color":"#fff"},
{"offset":0.6667,"color":"#333"},{"offset":0.675,"color":"#333"},{"offset":0.675,"color":"#fff"},{"offset":0.7333,"color":"#fff"},
{"offset":0.7333,"color":"#333"},{"offset":0.7416,"color":"#333"},{"offset":0.7416,"color":"#fff"},{"offset":0.8,"color":"#fff"},
{"offset":0.8,"color":"#333"},{"offset":0.8083,"color":"#333"},{"offset":0.8083,"color":"#fff"},{"offset":0.8667,"color":"#fff"},
{"offset":0.8667,"color":"#333"},{"offset":0.875,"color":"#333"},{"offset":0.875,"color":"#fff"},{"offset":0.9333,"color":"#fff"},
{"offset":0.9333,"color":"#333"},{"offset":0.9416,"color":"#333"},{"offset":0.9416,"color":"#fff"},{"offset":1,"color":"#fff"}
]}},"encoding":{"x2":{"field":"t2"},"y2":{"field":"v2"}}},
{"data":{"name":"bases"},"transform":[{"filter":"datum.p==200"}],"mark":{"type":"rule","color":"#1a1a1a","strokeWidth":1.8},"encoding":{"x2":{"field":"t2"}}},
{"data":{"name":"vlines"},"transform":[{"filter":"datum.p==200"}],"mark":{"type":"rule","color":"#1a1a1a","strokeWidth":1.3},"encoding":{"y2":{"field":"v2"}}},
{"data":{"name":"curves"},"transform":[{"filter":"datum.p==200 && datum.s=='dashed'"}],"mark":{"type":"line","color":"#1a1a1a","strokeWidth":2.3,"strokeDash":[10,6],"interpolate":"monotone"}},
{"data":{"name":"curves"},"transform":[{"filter":"datum.p==200 && datum.s=='solid'"}],"mark":{"type":"line","color":"#1a1a1a","strokeWidth":2.4,"interpolate":"monotone"}},
{"data":{"name":"dots"},"transform":[{"filter":"datum.p==200"}],"mark":{"type":"rule","color":"#1a1a1a","strokeWidth":1.3},"encoding":{"y2":{"field":"v2"}}},
{"data":{"name":"dots"},"transform":[{"filter":"datum.p==200"}],"mark":{"type":"point","shape":"triangle-up","filled":true,"color":"#1a1a1a","opacity":1,"size":24},"encoding":{"y":{"field":"v2","type":"quantitative"}}},
{"data":{"name":"dots"},"transform":[{"filter":"datum.p==200"}],"mark":{"type":"circle","color":"#1a1a1a","opacity":1,"size":80}},
{"data":{"name":"plabels"},"transform":[{"filter":"datum.p==200"}],"mark":{"type":"text","align":"right","baseline":"middle","font":"DejaVu Sans","fontSize":16,"color":"#1a1a1a"},"encoding":{"text":{"field":"text"}}},
{"data":{"name":"dlabels"},"transform":[{"filter":"datum.p==200"}],"mark":{"type":"text","align":"center","baseline":"middle","font":"DejaVu Sans","fontSize":16.5,"color":"#1a1a1a"},"encoding":{"text":{"field":"text"}}}
]
},
{
"height": 114, "width": 756,
"encoding": {"x": {"field":"t","type":"quantitative","scale":{"domain":[-165.4,815.2],"nice":false,"zero":false},"axis":null},
"y": {"field":"v","type":"quantitative","scale":{"domain":[-0.684,2.316],"nice":false,"zero":false},"axis":null}},
"layer": [
{"data":{"name":"boxes"},"transform":[{"filter":"datum.p==100"}],"mark":{"type":"rect","stroke":"#1a1a1a","strokeWidth":1.5,"fill":{"gradient":"linear","x1":0,"y1":0,"x2":1.2011,"y2":0.592,"stops":[
{"offset":0,"color":"#333"},{"offset":0.0139,"color":"#333"},{"offset":0.0139,"color":"#fff"},{"offset":0.1111,"color":"#fff"},
{"offset":0.1111,"color":"#333"},{"offset":0.125,"color":"#333"},{"offset":0.125,"color":"#fff"},{"offset":0.2222,"color":"#fff"},
{"offset":0.2222,"color":"#333"},{"offset":0.2361,"color":"#333"},{"offset":0.2361,"color":"#fff"},{"offset":0.3333,"color":"#fff"},
{"offset":0.3333,"color":"#333"},{"offset":0.3472,"color":"#333"},{"offset":0.3472,"color":"#fff"},{"offset":0.4444,"color":"#fff"},
{"offset":0.4444,"color":"#333"},{"offset":0.4583,"color":"#333"},{"offset":0.4583,"color":"#fff"},{"offset":0.5556,"color":"#fff"},
{"offset":0.5556,"color":"#333"},{"offset":0.5695,"color":"#333"},{"offset":0.5695,"color":"#fff"},{"offset":0.6667,"color":"#fff"},
{"offset":0.6667,"color":"#333"},{"offset":0.6806,"color":"#333"},{"offset":0.6806,"color":"#fff"},{"offset":0.7778,"color":"#fff"},
{"offset":0.7778,"color":"#333"},{"offset":0.7917,"color":"#333"},{"offset":0.7917,"color":"#fff"},{"offset":0.8889,"color":"#fff"},
{"offset":0.8889,"color":"#333"},{"offset":0.9028,"color":"#333"},{"offset":0.9028,"color":"#fff"},{"offset":1,"color":"#fff"}
]}},"encoding":{"x2":{"field":"t2"},"y2":{"field":"v2"}}},
{"data":{"name":"bases"},"transform":[{"filter":"datum.p==100"}],"mark":{"type":"rule","color":"#1a1a1a","strokeWidth":1.8},"encoding":{"x2":{"field":"t2"}}},
{"data":{"name":"vlines"},"transform":[{"filter":"datum.p==100"}],"mark":{"type":"rule","color":"#1a1a1a","strokeWidth":1.3},"encoding":{"y2":{"field":"v2"}}},
{"data":{"name":"curves"},"transform":[{"filter":"datum.p==100 && datum.s=='dashed'"}],"mark":{"type":"line","color":"#1a1a1a","strokeWidth":2.3,"strokeDash":[10,6],"interpolate":"monotone"}},
{"data":{"name":"curves"},"transform":[{"filter":"datum.p==100 && datum.s=='solid'"}],"mark":{"type":"line","color":"#1a1a1a","strokeWidth":2.4,"interpolate":"monotone"}},
{"data":{"name":"dots"},"transform":[{"filter":"datum.p==100"}],"mark":{"type":"rule","color":"#1a1a1a","strokeWidth":1.3},"encoding":{"y2":{"field":"v2"}}},
{"data":{"name":"dots"},"transform":[{"filter":"datum.p==100"}],"mark":{"type":"point","shape":"triangle-up","filled":true,"color":"#1a1a1a","opacity":1,"size":24},"encoding":{"y":{"field":"v2","type":"quantitative"}}},
{"data":{"name":"dots"},"transform":[{"filter":"datum.p==100"}],"mark":{"type":"circle","color":"#1a1a1a","opacity":1,"size":80}},
{"data":{"name":"plabels"},"transform":[{"filter":"datum.p==100"}],"mark":{"type":"text","align":"right","baseline":"middle","font":"DejaVu Sans","fontSize":16,"color":"#1a1a1a"},"encoding":{"text":{"field":"text"}}},
{"data":{"name":"dlabels"},"transform":[{"filter":"datum.p==100"}],"mark":{"type":"text","align":"center","baseline":"middle","font":"DejaVu Sans","fontSize":16.5,"color":"#1a1a1a"},"encoding":{"text":{"field":"text"}}},
{"data":{"name":"notes"},"transform":[{"filter":"datum.p==100"}],"mark":{"type":"text","align":"left","baseline":"middle","font":"DejaVu Sans","fontSize":16.5,"color":"#1a1a1a"},"encoding":{"text":{"field":"text"}}},
{"data":{"name":"leader"},"mark":{"type":"line","color":"#1a1a1a","strokeWidth":1.4,"interpolate":"monotone"}},
{"data":{"name":"leadhead"},"mark":{"type":"point","shape":"wedge","angle":260,"filled":true,"color":"#1a1a1a","opacity":1,"size":70}}
]
},
{
"height": 114, "width": 756,
"encoding": {"x": {"field":"t","type":"quantitative","scale":{"domain":[-165.4,815.2],"nice":false,"zero":false},"axis":null},
"y": {"field":"v","type":"quantitative","scale":{"domain":[-0.684,2.316],"nice":false,"zero":false},"axis":null}},
"layer": [
{"data":{"name":"boxes"},"transform":[{"filter":"datum.p==50"}],"mark":{"type":"rect","stroke":"#1a1a1a","strokeWidth":1.5,"fill":{"gradient":"linear","x1":0,"y1":0,"x2":1.0072,"y2":0.9928,"stops":[
{"offset":0,"color":"#333"},{"offset":0.0208,"color":"#333"},{"offset":0.0208,"color":"#fff"},{"offset":0.1667,"color":"#fff"},
{"offset":0.1667,"color":"#333"},{"offset":0.1875,"color":"#333"},{"offset":0.1875,"color":"#fff"},{"offset":0.3333,"color":"#fff"},
{"offset":0.3333,"color":"#333"},{"offset":0.3541,"color":"#333"},{"offset":0.3541,"color":"#fff"},{"offset":0.5,"color":"#fff"},
{"offset":0.5,"color":"#333"},{"offset":0.5208,"color":"#333"},{"offset":0.5208,"color":"#fff"},{"offset":0.6667,"color":"#fff"},
{"offset":0.6667,"color":"#333"},{"offset":0.6875,"color":"#333"},{"offset":0.6875,"color":"#fff"},{"offset":0.8333,"color":"#fff"},
{"offset":0.8333,"color":"#333"},{"offset":0.8541,"color":"#333"},{"offset":0.8541,"color":"#fff"},{"offset":1,"color":"#fff"}
]}},"encoding":{"x2":{"field":"t2"},"y2":{"field":"v2"}}},
{"data":{"name":"bases"},"transform":[{"filter":"datum.p==50"}],"mark":{"type":"rule","color":"#1a1a1a","strokeWidth":1.8},"encoding":{"x2":{"field":"t2"}}},
{"data":{"name":"vlines"},"transform":[{"filter":"datum.p==50"}],"mark":{"type":"rule","color":"#1a1a1a","strokeWidth":1.3},"encoding":{"y2":{"field":"v2"}}},
{"data":{"name":"curves"},"transform":[{"filter":"datum.p==50 && datum.s=='dashed'"}],"mark":{"type":"line","color":"#1a1a1a","strokeWidth":2.3,"strokeDash":[10,6],"interpolate":"monotone"}},
{"data":{"name":"curves"},"transform":[{"filter":"datum.p==50 && datum.s=='solid'"}],"mark":{"type":"line","color":"#1a1a1a","strokeWidth":2.4,"interpolate":"monotone"}},
{"data":{"name":"dots"},"transform":[{"filter":"datum.p==50"}],"mark":{"type":"rule","color":"#1a1a1a","strokeWidth":1.3},"encoding":{"y2":{"field":"v2"}}},
{"data":{"name":"dots"},"transform":[{"filter":"datum.p==50"}],"mark":{"type":"point","shape":"triangle-up","filled":true,"color":"#1a1a1a","opacity":1,"size":24},"encoding":{"y":{"field":"v2","type":"quantitative"}}},
{"data":{"name":"dots"},"transform":[{"filter":"datum.p==50"}],"mark":{"type":"circle","color":"#1a1a1a","opacity":1,"size":80}},
{"data":{"name":"plabels"},"transform":[{"filter":"datum.p==50"}],"mark":{"type":"text","align":"right","baseline":"middle","font":"DejaVu Sans","fontSize":16,"color":"#1a1a1a"},"encoding":{"text":{"field":"text"}}},
{"data":{"name":"dlabels"},"transform":[{"filter":"datum.p==50"}],"mark":{"type":"text","align":"center","baseline":"middle","font":"DejaVu Sans","fontSize":16.5,"color":"#1a1a1a"},"encoding":{"text":{"field":"text"}}}
]
},
{
"height": 51, "width": 756,
"encoding": {"x": {"field":"t","type":"quantitative","scale":{"domain":[-165.4,815.2],"nice":false,"zero":false},
"axis": {"values":[0,100,200,300,400,500,600],"labelExpr":"datum.value == 600 ? '600 m sec.' : datum.label","labelAlign":{"condition":{"test":"datum.value == 600","value":"left"},"value":"center"},"labelOffset":{"condition":{"test":"datum.value == 600","value":-14},"value":0},"domain":false,"ticks":false,"tickSize":0,"grid":false,"labelPadding":12,"labelFont":"DejaVu Sans","labelFontSize":16,"labelColor":"#1a1a1a","labelFlush":false,"labelOverlap":false,"title":"Time from Onset of S\u2081","titleFont":"DejaVu Sans","titleFontSize":16,"titleFontWeight":"normal","titleColor":"#1a1a1a","titlePadding":40,"titleX":366}},
"y": {"field":"v","type":"quantitative","scale":{"domain":[0,1],"nice":false,"zero":false},"axis":null}},
"layer": [
{"data":{"name":"bases"},"transform":[{"filter":"datum.p==0"}],"mark":{"type":"rule","color":"#1a1a1a","strokeWidth":1.8},"encoding":{"x2":{"field":"t2"}}},
{"data":{"name":"ticks"},"mark":{"type":"rule","color":"#1a1a1a","strokeWidth":1.3},"encoding":{"y2":{"field":"v2"}}},
{"data":{"name":"vlines"},"transform":[{"filter":"datum.p==0"}],"mark":{"type":"rule","color":"#1a1a1a","strokeWidth":1.3},"encoding":{"y2":{"field":"v2"}}},
{"data":{"name":"arrow"},"mark":{"type":"rule","color":"#1a1a1a","strokeWidth":2},"encoding":{"x2":{"field":"t2"}}},
{"data":{"name":"arrowhead"},"mark":{"type":"point","shape":"triangle-right","filled":true,"color":"#1a1a1a","opacity":1,"size":90}}
]
}
]
}
